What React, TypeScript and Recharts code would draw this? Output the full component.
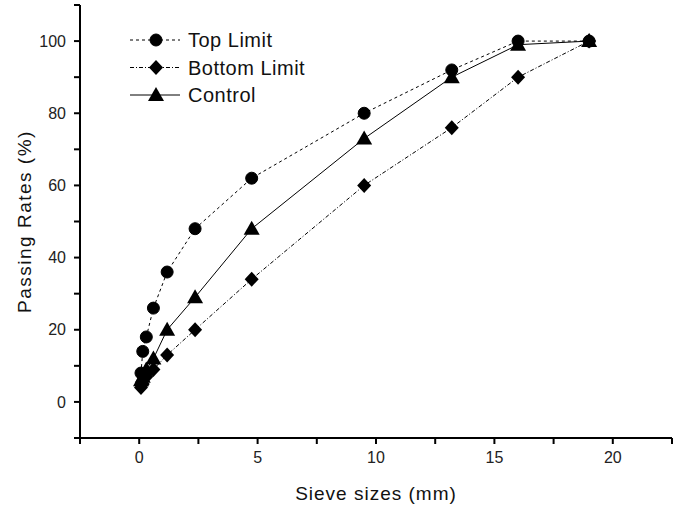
import React from 'react';
import { LineChart, Line, XAxis, YAxis } from 'recharts';

const sieveSizes = [0.075, 0.15, 0.3, 0.6, 1.18, 2.36, 4.75, 9.5, 13.2, 16, 19];
const topLimit = [8, 14, 18, 26, 36, 48, 62, 80, 92, 100, 100];
const bottomLimit = [4, 5, 7, 9, 13, 20, 34, 60, 76, 90, 100];
const control = [6, 7, 9, 12, 20, 29, 48, 73, 90, 99, 100];

const xTicks = [-2.5, 0, 2.5, 5, 7.5, 10, 12.5, 15, 17.5, 20, 22.5];
const yTicks = [-10, 0, 10, 20, 30, 40, 50, 60, 70, 80, 90, 100, 110];
const xLabels = [0, 5, 10, 15, 20];
const yLabels = [0, 20, 40, 60, 80, 100];

const data = sieveSizes.map((s, i) => ({
  size: s,
  top: topLimit[i],
  bottom: bottomLimit[i],
  control: control[i],
}));

const FONT = '"Liberation Sans", Arial, sans-serif';

const Circle = (cx: number, cy: number, key?: any) => (
  <circle key={key} cx={cx} cy={cy} r={6} fill="#000" stroke="#000" />
);
const Diamond = (cx: number, cy: number, key?: any) => (
  <path key={key} d={`M${cx},${cy - 7.5} L${cx + 7},${cy} L${cx},${cy + 7.5} L${cx - 7},${cy} Z`} fill="#000" />
);
const Triangle = (cx: number, cy: number, key?: any) => (
  <path key={key} d={`M${cx},${cy - 8} L${cx + 8},${cy + 6} L${cx - 8},${cy + 6} Z`} fill="#000" />
);

const dotRender = (fn: any) => (props: any) => fn(props.cx, props.cy, props.key ?? `${props.cx}-${props.cy}`);

const legendItems = [
  { name: 'Top Limit', dash: '3 3', marker: Circle },
  { name: 'Bottom Limit', dash: '4 2 1 2', marker: Diamond },
  { name: 'Control', dash: undefined, marker: Triangle },
];

const LegendBox = () => (
  <svg width={200} height={90} style={{ position: 'absolute', left: 130, top: 28, overflow: 'visible' }}>
    {legendItems.map((it, i) => {
      const y = 12 + i * 27.5;
      return (
        <g key={it.name}>
          <line x1={0} x2={50} y1={y} y2={y} stroke="#000" strokeWidth={1} strokeDasharray={it.dash} />
          {it.marker(26, y)}
          <text x={58} y={y + 7} fontSize={20} letterSpacing={0.5} fontFamily={FONT} fill="#111">{it.name}</text>
        </g>
      );
    })}
  </svg>
);

export default function App() {
  return (
    <div style={{ position: 'absolute', left: 0, top: 0, width: 678, height: 510, background: '#fff' }}>
      <LineChart
        width={678}
        height={510}
        data={data}
        margin={{ top: 5, right: 6, left: 0, bottom: 0 }}
        style={{ fontFamily: FONT }}
      >
        <XAxis
          dataKey="size"
          type="number"
          domain={[-2.5, 22.5]}
          ticks={xTicks}
          interval={0}
          allowDataOverflow
          height={72}
          axisLine={{ stroke: '#000', strokeWidth: 2 }}
          tickLine={{ stroke: '#000', strokeWidth: 2 }}
          tickSize={6}
          tickMargin={8}
          tick={{ fill: '#222', fontSize: 16, fontFamily: FONT }}
          tickFormatter={(v: number) => (xLabels.includes(v) ? String(v) : '')}
          label={{ value: 'Sieve sizes (mm)', position: 'insideBottom', offset: 10, fill: '#111', fontSize: 19, letterSpacing: 1, fontFamily: FONT }}
        />
        <XAxis
          xAxisId="top"
          dataKey="size"
          type="number"
          domain={[-2.5, 22.5]}
          orientation="top"
          height={0}
          tick={false}
          tickLine={false}
          axisLine={{ stroke: '#000', strokeWidth: 2 }}
        />
        <YAxis
          type="number"
          domain={[-10, 110]}
          ticks={yTicks}
          interval={0}
          allowDataOverflow
          width={80}
          axisLine={{ stroke: '#000', strokeWidth: 2 }}
          tickLine={{ stroke: '#000', strokeWidth: 2 }}
          tickSize={6}
          tickMargin={8}
          tick={{ fill: '#222', fontSize: 16, fontFamily: FONT }}
          tickFormatter={(v: number) => (yLabels.includes(v) ? String(v) : '')}
          label={{ value: 'Passing Rates (%)', angle: -90, position: 'insideLeft', offset: 24, style: { textAnchor: 'middle' }, fill: '#111', fontSize: 19, letterSpacing: 1.5, fontFamily: FONT }}
        />
        <YAxis
          yAxisId="right"
          type="number"
          domain={[-10, 110]}
          orientation="right"
          width={0}
          tick={false}
          tickLine={false}
          axisLine={{ stroke: '#000', strokeWidth: 2 }}
        />
        <Line
          dataKey="top"
          name="Top Limit"
          stroke="#000"
          strokeWidth={1}
          strokeDasharray="3 3"
          dot={dotRender(Circle)}
          activeDot={false}
          isAnimationActive={false}
        />
        <Line
          dataKey="bottom"
          name="Bottom Limit"
          stroke="#000"
          strokeWidth={1}
          strokeDasharray="4 2 1 2"
          dot={dotRender(Diamond)}
          activeDot={false}
          isAnimationActive={false}
        />
        <Line
          dataKey="control"
          name="Control"
          stroke="#000"
          strokeWidth={1}
          dot={dotRender(Triangle)}
          activeDot={false}
          isAnimationActive={false}
        />
      </LineChart>
      <LegendBox />
    </div>
  );
}
